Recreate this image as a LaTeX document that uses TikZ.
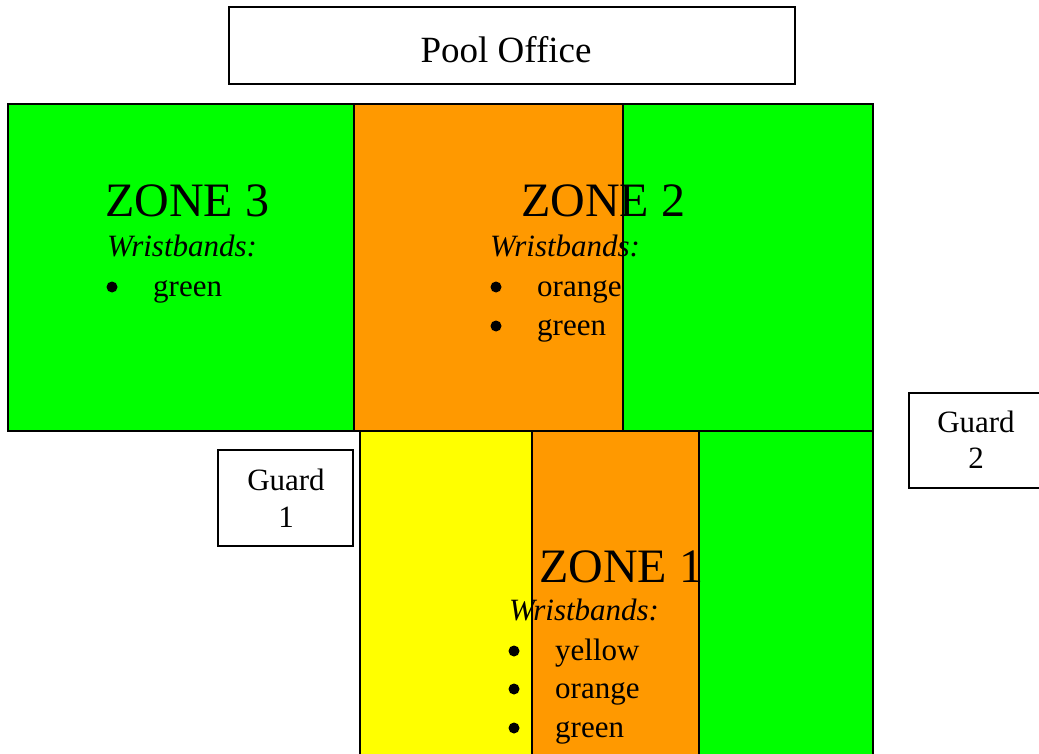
\documentclass[tikz,border=0pt]{standalone}
\usepackage{fontspec}
\setmainfont{Liberation Serif}
\definecolor{zgreen}{HTML}{00FF00}
\definecolor{zorange}{HTML}{FF9900}
\definecolor{zyellow}{HTML}{FFFF00}
\begin{document}
\begin{tikzpicture}[x=1pt,y=-1pt,
  area/.style={draw=black,line width=1.5pt},
  box/.style={draw=black,line width=1.5pt,fill=white},
  body/.style={anchor=base west,inner sep=0pt,font=\fontsize{31}{37}\selectfont},
  title/.style={anchor=base west,inner sep=0pt,font=\fontsize{48}{56}\selectfont},
  bul/.style={circle,fill=black,inner sep=0pt,minimum size=11pt},
  guardtxt/.style={anchor=base,inner sep=0pt,font=\fontsize{31}{37}\selectfont}]
\useasboundingbox (0,0) rectangle (1039,754);
% Pool office
\draw[box] (229,7) rectangle (795,84);
\node[anchor=base,inner sep=0pt,font=\fontsize{37}{44}\selectfont] (pool) at (506,63) {Pool Office};
% Zone 3
\filldraw[area,fill=zgreen] (8,104) rectangle (354,431);
% Zone 2
\filldraw[area,fill=zorange] (354,104) rectangle (623,431);
\filldraw[area,fill=zgreen] (623,104) rectangle (873,431);
% Zone 1
\filldraw[area,fill=zyellow] (360,431) rectangle (532,760);
\filldraw[area,fill=zorange] (532,431) rectangle (699,760);
\filldraw[area,fill=zgreen] (699,431) rectangle (873,760);
% Zone 3 text
\node[title] (z3) at (105,217) {ZONE 3};
\node[body] (z3w) at (107,257) {\itshape Wristbands:};
\node[bul] (z3b1) at (112,287) {};
\node[body] (z3i1) at (153,296) {green};
% Zone 2 text
\node[title] (z2) at (521,217) {ZONE 2};
\node[body] (z2w) at (490,257) {\itshape Wristbands:};
\node[bul] (z2b1) at (496,287) {};
\node[body] (z2i1) at (537,296) {orange};
\node[bul] (z2b2) at (496,326) {};
\node[body] (z2i2) at (537,335) {green};
% Zone 1 text
\node[title] (z1) at (539,582) {ZONE 1};
\node[body] (z1w) at (509,620) {\itshape Wristbands:};
\node[bul] (z1b1) at (514,651) {};
\node[body] (z1i1) at (555,660) {yellow};
\node[bul] (z1b2) at (514,689) {};
\node[body] (z1i2) at (555,698) {orange};
\node[bul] (z1b3) at (514,728) {};
\node[body] (z1i3) at (555,737) {green};
% Guards
\draw[box] (218,450) rectangle (353,546);
\node[guardtxt] (g1a) at (286,490) {Guard};
\node[guardtxt] (g1b) at (286,527) {1};
\draw[box] (909,393) rectangle (1050,488);
\node[guardtxt] (g2a) at (976,432) {Guard};
\node[guardtxt] (g2b) at (976,468) {2};
\end{tikzpicture}
\end{document}
